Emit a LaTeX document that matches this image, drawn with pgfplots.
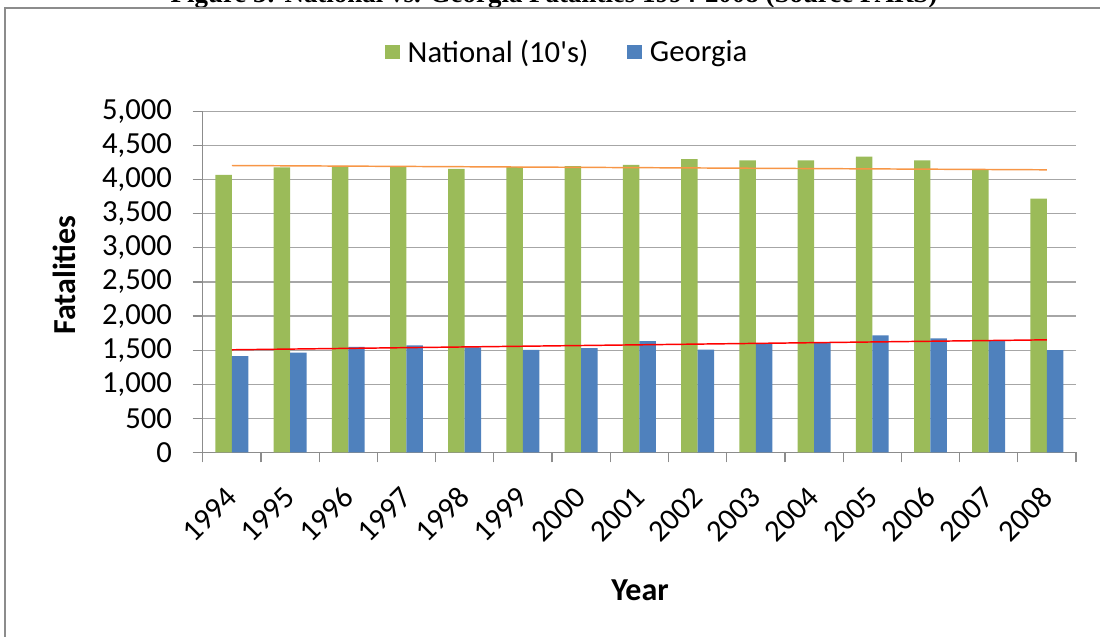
\documentclass[border=0pt]{standalone}
\usepackage{pgfplots}
\usepackage{pgfplotstable}
\pgfplotsset{compat=1.18}
\usepackage{fontspec}
\setmainfont{Carlito}
\newfontfamily\plainfont{Carlito}
\newfontfamily\titlefont{Liberation Serif}
\definecolor{natgreen}{HTML}{9BBB59}
\definecolor{gablue}{HTML}{4F81BD}
\definecolor{trendorange}{HTML}{F79646}
\definecolor{gridgray}{HTML}{A6A6A6}
\definecolor{axisgray}{HTML}{8C8C8C}
\definecolor{framegray}{HTML}{8C8C8C}

\pgfplotstableread{
x year nat ga
0 1994 4072 1414
1 1995 4179 1466
2 1996 4204 1550
3 1997 4194 1569
4 1998 4160 1540
5 1999 4189 1506
6 2000 4199 1531
7 2001 4218 1633
8 2002 4302 1510
9 2003 4282 1594
10 2004 4282 1604
11 2005 4340 1716
12 2006 4282 1672
13 2007 4145 1642
14 2008 3724 1501
}\datatable

\begin{document}
\begin{tikzpicture}[x=0.75pt,y=0.75pt]
\useasboundingbox (0,0) rectangle (1100,636);
\clip (0,0) rectangle (1100,636);
\node[font=\titlefont\bfseries\fontsize{20.2}{24}\selectfont, anchor=base, inner sep=0pt] at (554,633) {Figure 3: National vs. Georgia Fatalities 1994-2008 (Source FARS)};
\draw[framegray, line width=1.9pt] (5,-30) rectangle (1140,628);
\begin{axis}[
  at={(152.03pt,137.63pt)}, anchor=south west,
  scale only axis, width=655pt, height=255.75pt,
  xmin=-0.5, xmax=14.5, ymin=0, ymax=5000,
  ytick={0,500,...,5000},
  xtick={0,...,14},
  xticklabels={1994,1995,1996,1997,1998,1999,2000,2001,2002,2003,2004,2005,2006,2007,2008},
  minor xtick={-0.5,0.5,...,14.5},
  axis x line*=bottom, axis y line*=left,
  axis line style={draw=axisgray, line width=0.9pt},
  ymajorgrids, grid style={draw=gridgray, line width=0.9pt},
  tick align=outside, major tick length=7.5pt, minor tick length=7.5pt,
  major x tick style={draw=none},
  minor x tick style={draw=axisgray, line width=0.9pt},
  ytick style={draw=axisgray, line width=0.9pt},
  scaled y ticks=false,
  /pgf/number format/.cd, 1000 sep={,}, assume math mode=true, /pgfplots/.cd,
  tick label style={font=\fontsize{23}{27.6}\selectfont, text=black},
  yticklabel style={xshift=-12pt},
  xticklabel style={xshift=0pt, yshift=-22.5pt, rotate=45, anchor=east, inner sep=0pt},
  xlabel={Year}, ylabel={Fatalities},
  label style={font=\bfseries\fontsize{24}{28}\selectfont},
  xlabel style={at={(axis description cs:0.5008,-0.403)}, anchor=center},
  ylabel style={at={(axis description cs:-0.158,0.52)}, anchor=center, rotate=0},
  legend style={at={(0.4175,1.1745)}, anchor=center, draw=none, fill=none,
    font=\plainfont\fontsize{23}{27.6}\selectfont, legend columns=2,
    /tikz/every even column/.append style={column sep=27pt},
    /tikz/every odd column/.append style={column sep=4pt}},
  clip=false,
]
\addplot[ybar, bar width=0.283, bar shift=-0.1415, fill=natgreen, draw=none,
  legend image code/.code={\fill[natgreen] (0pt,-5.6pt) rectangle (11.2pt,5.6pt);}]
  table[x=x, y=nat]{\datatable};
\addlegendentry{National (10's)}
\addplot[ybar, bar width=0.283, bar shift=0.1415, fill=gablue, draw=none,
  legend image code/.code={\fill[gablue] (0pt,-5.6pt) rectangle (11.2pt,5.6pt);}]
  table[x=x, y=ga]{\datatable};
\addlegendentry{Georgia}
\addplot[trendorange, line width=1.1pt, forget plot] coordinates {(0,4208) (14,4145)};
\addplot[red, line width=1.1pt, forget plot] coordinates {(0,1506) (14,1652)};
\end{axis}
\end{tikzpicture}
\end{document}
